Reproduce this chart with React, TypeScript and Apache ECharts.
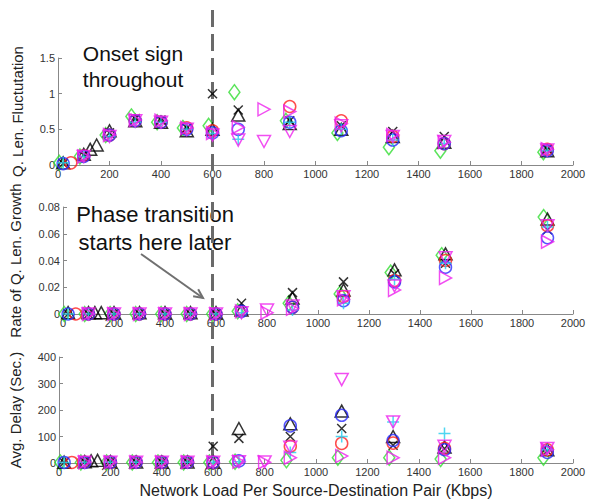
import React, { useEffect, useRef } from "react";
import * as echarts from "echarts";

const loads = [20, 50, 100, 125, 150, 200, 300, 400, 500, 600, 700, 800, 900, 1100, 1300, 1500, 1900];
const onsetLoad = 600;

// Panel 1: Q. Len. Fluctuation
const flucGreen = [0.03, null, 0.12, null, null, 0.42, 0.68, 0.6, 0.52, 0.55, 1.02, null, 0.62, 0.45, 0.25, 0.2, 0.18];
const flucBlackTri = [0.03, null, 0.15, 0.22, 0.28, 0.48, 0.62, 0.6, 0.48, 0.5, 0.7, null, 0.58, 0.5, 0.4, 0.32, 0.2];
const flucBlackX = [0.02, null, 0.14, null, null, 0.45, 0.65, 0.63, 0.52, 1.0, 0.77, null, 0.62, 0.55, 0.47, 0.4, 0.22];
const flucRed = [null, 0.03, 0.13, null, null, 0.42, 0.62, 0.6, 0.52, 0.48, null, null, 0.82, 0.62, 0.4, 0.3, 0.22];
const flucBlue = [0.02, null, 0.12, null, null, 0.42, 0.62, 0.6, 0.5, 0.45, 0.5, null, 0.6, 0.48, 0.35, 0.3, 0.2];
const flucCyan = [0.03, null, 0.12, null, null, 0.4, 0.6, 0.6, 0.5, 0.44, 0.36, null, 0.6, 0.5, 0.35, 0.3, 0.2];
const flucMagRight = [null, null, 0.12, null, null, 0.42, 0.63, 0.62, 0.52, 0.45, 0.53, 0.78, 0.75, 0.58, 0.42, 0.32, 0.22];
const flucMagDown = [null, null, 0.12, null, null, 0.4, 0.62, 0.6, 0.5, 0.42, 0.35, 0.33, 0.47, 0.55, 0.4, 0.33, 0.21];

// Panel 2: Rate of Q. Len. Growth
const growGreen = [0, null, 0, null, null, 0, 0, 0, 0, 0, 0.002, null, 0.008, 0.015, 0.031, 0.044, 0.0725];
const growBlackTri = [0.001, null, 0.001, 0.001, 0.001, 0.001, 0.001, 0.001, 0.001, 0.001, 0.003, null, 0.012, 0.018, 0.033, 0.045, 0.071];
const growBlackX = [0, null, 0, null, null, 0, 0, 0, 0, 0, 0.008, null, 0.016, 0.024, 0.03, 0.038, 0.063];
const growRed = [null, 0, 0, null, null, 0, 0, 0, 0, 0, null, null, 0.005, 0.013, 0.025, 0.04, 0.066];
const growBlue = [0, null, 0, null, null, 0, 0, 0, 0, 0, 0.002, null, 0.005, 0.01, 0.024, 0.035, 0.057];
const growCyan = [0, null, 0, null, null, 0, 0, 0, 0, 0, 0.001, null, 0.003, 0.008, 0.026, 0.038, 0.065];
const growMagRight = [null, null, 0, null, null, 0, 0, 0, 0, 0, 0.002, 0.001, 0.004, 0.011, 0.018, 0.027, 0.054];
const growMagDown = [null, null, 0, null, null, 0, 0, 0, 0, 0, 0.001, 0.003, 0.006, 0.013, 0.021, 0.042, 0.066];

// Panel 3: Avg. Delay (Sec.)
const delayGreen = [2, null, 2, null, null, 2, 2, 2, 2, 2, 5, null, 10, 20, 20, 15, 20];
const delayBlackTri = [3, null, 5, 8, 10, 5, 4, 4, 4, 4, 130, null, 148, 196, 100, 60, 50];
const delayBlackX = [2, null, 5, null, null, 3, 3, 3, 3, 63, 93, null, 100, 130, 67, 55, 45];
const delayRed = [null, 2, 3, null, null, 3, 3, 3, 3, 3, null, null, 63, 74, 75, 55, 50];
const delayBlue = [2, null, 2, null, null, 3, 3, 3, 3, 3, 8, null, 140, 180, 85, 50, 40];
const delayCyan = [2, null, 2, null, null, 3, 3, 3, 3, 3, 5, null, 40, 100, 155, 111, 50];
const delayMagRight = [null, null, 3, null, null, 3, 3, 3, 3, 3, 5, 3, 20, 26, 20, 20, 50];
const delayMagDown = [null, null, 3, null, null, 3, 3, 3, 3, 3, 5, 4, 60, 315, 155, 63, 55];

const panelNames = ["Q. Len. Fluctutation", "Rate of Q. Len. Growth", "Avg. Delay (Sec.)"];
const panelMax = [1.5, 0.08, 400];
const panelInterval = [0.5, 0.02, 100];
const xAxisTitle = "Network Load Per Source-Destination Pair (Kbps)";

const markerStyles = [
  { symbol: "diamond", size: [11, 15], color: "#33dd33", xShift: -15 },
  { symbol: "triangle", size: [13, 12], color: "#000000", xShift: 0 },
  { symbol: "path://M0,0L10,10M10,0L0,10", size: 9, color: "#000000", xShift: 0 },
  { symbol: "circle", size: 12, color: "#ff2020", xShift: 0 },
  { symbol: "circle", size: 12, color: "#2a2aff", xShift: 0 },
  { symbol: "path://M5,0L5,10M0,5L10,5", size: 12, color: "#22ccee", xShift: 0 },
  { symbol: "path://M0,0L10,5L0,10Z", size: [12, 13], color: "#ee22ee", xShift: 0 },
  { symbol: "path://M0,0L10,0L5,10Z", size: [13, 12], color: "#ee22ee", xShift: 0 },
];

const panels = [
  [flucGreen, flucBlackTri, flucBlackX, flucRed, flucBlue, flucCyan, flucMagRight, flucMagDown],
  [growGreen, growBlackTri, growBlackX, growRed, growBlue, growCyan, growMagRight, growMagDown],
  [delayGreen, delayBlackTri, delayBlackX, delayRed, delayBlue, delayCyan, delayMagRight, delayMagDown],
];

const FONT = "'Liberation Sans', Arial, sans-serif";
const gridTops = [58, 207, 357];
const gridHeights = [107, 107, 108];
const nameGaps = [33, 40, 36];

export default function App() {
  const ref = useRef<HTMLDivElement>(null);
  useEffect(() => {
    if (!ref.current) return;
    const chart = echarts.init(ref.current, undefined, { renderer: "svg" });

    const grids = gridTops.map((top, i) => ({ left: 58, right: 17, top, height: gridHeights[i] }));
    const xAxes = gridTops.map((_, i) => ({
      type: "value",
      gridIndex: i,
      min: 0,
      max: 2000,
      interval: 200,
      name: i === 2 ? xAxisTitle : "",
      nameLocation: "middle",
      nameGap: 19,
      nameTextStyle: { fontFamily: FONT, fontSize: 16, color: "#222", verticalAlign: "top" },
      axisLine: { lineStyle: { color: "#888", width: 1 } },
      axisTick: { inside: true, length: 4, lineStyle: { color: "#888" } },
      axisLabel: {
        fontFamily: FONT,
        fontSize: 11,
        color: "#333",
        margin: 3,
        showMaxLabel: true,
        formatter: (v: number) => String(v),
      },
      splitLine: { show: false },
    }));
    const yAxes = gridTops.map((_, i) => ({
      type: "value",
      gridIndex: i,
      min: 0,
      max: panelMax[i],
      interval: panelInterval[i],
      name: panelNames[i],
      nameLocation: "middle",
      nameGap: nameGaps[i],
      nameTextStyle: { fontFamily: FONT, fontSize: 15, color: "#222" },
      axisLine: { show: true, lineStyle: { color: "#888", width: 1 } },
      axisTick: { show: true, inside: true, length: 4, lineStyle: { color: "#888" } },
      axisLabel: {
        fontFamily: FONT,
        fontSize: 11,
        color: "#333",
        margin: 3,
        formatter: (v: number) => String(Number(v.toFixed(4))),
      },
      splitLine: { show: false },
    }));

    const series: any[] = [];
    panels.forEach((panel, p) => {
      panel.forEach((vals, s) => {
        const st = markerStyles[s];
        const data = loads
          .map((x, k) => (vals[k] === null ? null : [x + st.xShift, vals[k]]))
          .filter((d) => d !== null);
        series.push({
          type: "scatter",
          xAxisIndex: p,
          yAxisIndex: p,
          symbol: st.symbol,
          symbolSize: st.size,
          data,
          z: 3,
          itemStyle: { color: "transparent", borderColor: st.color, borderWidth: 1.5 },
          emphasis: { disabled: true },
        });
      });
    });

    chart.setOption({
      animation: false,
      grid: grids,
      xAxis: xAxes,
      yAxis: yAxes,
      series,
    });

    const xp = chart.convertToPixel({ xAxisIndex: 0 }, onsetLoad) as number;

    // arrow geometry
    const ax0 = 141, ay0 = 254, ax1 = 203, ay1 = 298;
    const ang = Math.atan2(ay1 - ay0, ax1 - ax0);
    const hl = 10, hw = 0.45;
    const head = [
      [ax1 - hl * Math.cos(ang - hw), ay1 - hl * Math.sin(ang - hw)],
      [ax1, ay1],
      [ax1 - hl * Math.cos(ang + hw), ay1 - hl * Math.sin(ang + hw)],
    ];

    chart.setOption({
      graphic: [
        {
          type: "line",
          z: 1,
          shape: { x1: xp, y1: 10, x2: xp, y2: 470 },
          style: { stroke: "#6a6a6a", lineWidth: 3, lineDash: [17, 7] },
        },
        {
          type: "text",
          x: 133,
          y: 40,
          style: {
            text: "Onset sign\nthroughout",
            font: `21px ${FONT}`,
            fill: "#111",
            align: "center",
            lineHeight: 26,
          },
        },
        {
          type: "text",
          x: 155,
          y: 200,
          style: {
            text: "Phase transition\nstarts here later",
            font: `22px ${FONT}`,
            fill: "#111",
            align: "center",
            lineHeight: 28,
          },
        },
        {
          type: "line",
          shape: { x1: ax0, y1: ay0, x2: ax1, y2: ay1 },
          style: { stroke: "#707070", lineWidth: 2 },
        },
        {
          type: "polyline",
          shape: { points: head },
          style: { stroke: "#707070", lineWidth: 2, fill: null },
        },
      ],
    });

    return () => chart.dispose();
  }, []);
  return (
    <div
      ref={ref}
      style={{ position: "fixed", left: 0, top: 0, width: 590, height: 499, background: "#fff" }}
    />
  );
}
